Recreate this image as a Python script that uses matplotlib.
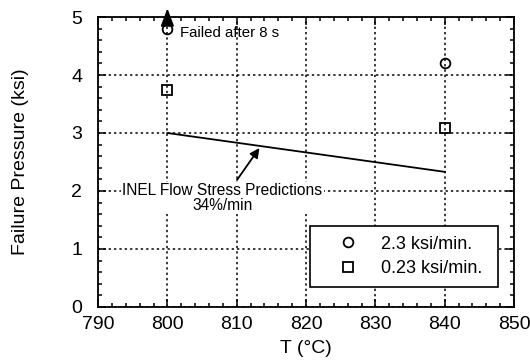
import matplotlib
matplotlib.use('Agg')
import matplotlib.pyplot as plt
from matplotlib.ticker import MultipleLocator

plt.rcParams['font.family'] = ['Liberation Sans', 'DejaVu Sans']

# failure tests
temp = [800, 840]
p_fast = [4.8, 4.2]      # 2.3 ksi/min
p_slow = [3.75, 3.08]    # 0.23 ksi/min

# INEL flow stress prediction, 34%/min
pred_T = [800, 840]
pred_p = [3.0, 2.33]

fig = plt.figure(figsize=(5.3, 3.62), dpi=100)
ax = fig.add_axes([0.185, 0.152, 0.785, 0.801])

ax.plot(pred_T, pred_p, color='black', lw=1.3, zorder=3)
ax.plot(temp, p_fast, 'o', ms=7, mfc='none', mec='black', mew=1.3,
        label='2.3 ksi/min.', zorder=4)
ax.plot(temp, p_slow, 's', ms=7.5, mfc='none', mec='black', mew=1.3,
        label='0.23 ksi/min.', zorder=4)

# run-out arrow above the first point
ax.annotate('', xy=(800, 5.15), xytext=(800, 4.88), annotation_clip=False,
            arrowprops=dict(arrowstyle='-|>,head_length=0.4,head_width=0.15',
                            color='black', lw=1.3, mutation_scale=27,
                            shrinkA=0, shrinkB=0), zorder=5)
ax.text(801.8, 4.72, 'Failed after 8 s', fontsize=10.8, ha='left', va='center')

ax.annotate('', xy=(813.5, 2.78), xytext=(809.8, 2.15),
            arrowprops=dict(arrowstyle='-|>', color='black', lw=1.3,
                            mutation_scale=14), zorder=5)
ax.text(807.9, 1.88, 'INEL Flow Stress Predictions\n34%/min', fontsize=11.2,
        ha='center', va='center', linespacing=1.0, zorder=5,
        bbox=dict(facecolor='white', edgecolor='none', pad=1))

ax.set_xlim(790, 850)
ax.set_ylim(0, 5)
ax.xaxis.set_major_locator(MultipleLocator(10))
ax.xaxis.set_minor_locator(MultipleLocator(2))
ax.yaxis.set_major_locator(MultipleLocator(1))
ax.yaxis.set_minor_locator(MultipleLocator(0.2))
ax.tick_params(which='both', direction='in', top=True, right=True,
               labelsize=14, width=1.1)
ax.tick_params(which='major', length=6)
ax.tick_params(which='minor', length=3)
ax.tick_params(axis='x', pad=6.5)
ax.tick_params(axis='y', pad=11.5)
ax.grid(True, which='major', color='black', ls=(0, (1.5, 2)), lw=1.1)
ax.set_axisbelow(True)
for s in ax.spines.values():
    s.set_linewidth(1.3)

ax.set_xlabel('T (°C)', fontsize=14, labelpad=5)
ax.set_ylabel('Failure Pressure (ksi)', fontsize=14, labelpad=30)

leg = ax.legend(loc='lower left', bbox_to_anchor=(0.510, 0.069, 0.452, 0.2),
                mode='expand', fontsize=13, frameon=True, fancybox=False,
                framealpha=1, edgecolor='black', handletextpad=0.25,
                borderpad=0.55, labelspacing=0.4, handlelength=3.1,
                borderaxespad=0)
leg.get_frame().set_linewidth(1.2)

fig.savefig('out.png', dpi=100)
